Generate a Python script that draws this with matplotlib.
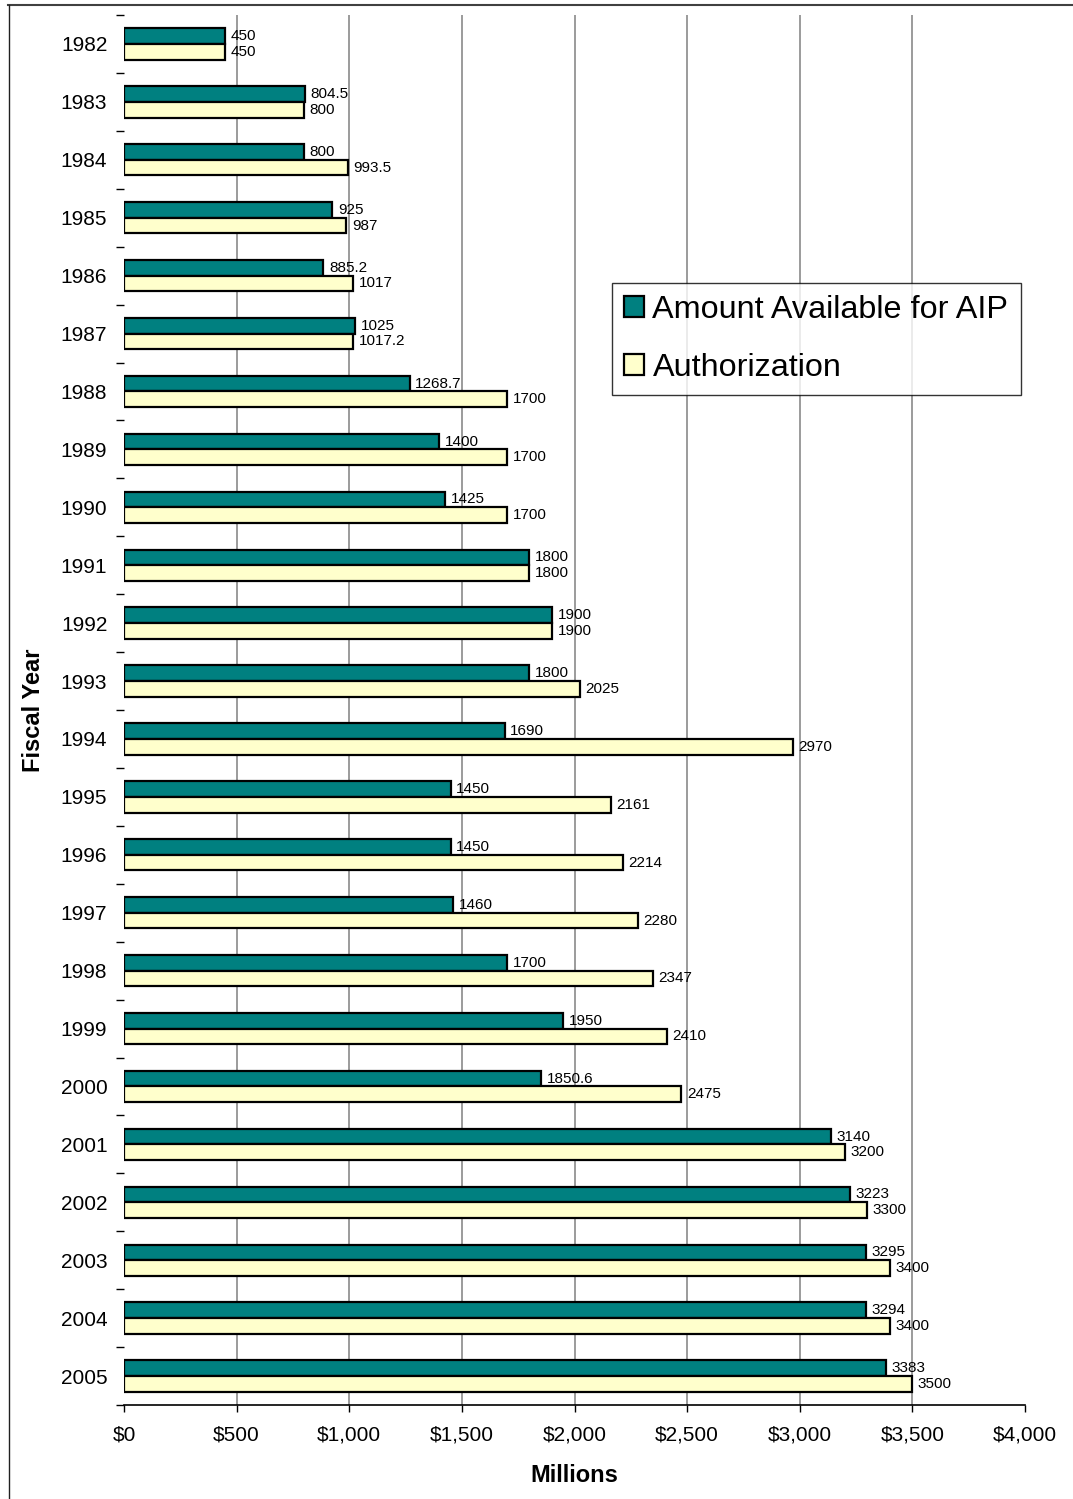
import matplotlib
matplotlib.use("Agg")
import matplotlib.pyplot as plt
import numpy as np
from matplotlib.lines import Line2D
from matplotlib.ticker import FuncFormatter, FixedLocator

plt.rcParams['font.family'] = ['Liberation Sans', 'DejaVu Sans']

years = ["1982", "1983", "1984", "1985", "1986", "1987", "1988", "1989", "1990",
         "1991", "1992", "1993", "1994", "1995", "1996", "1997", "1998", "1999",
         "2000", "2001", "2002", "2003", "2004", "2005"]
amount_available = [450, 804.5, 800, 925, 885.2, 1025, 1268.7, 1400, 1425, 1800,
                    1900, 1800, 1690, 1450, 1450, 1460, 1700, 1950, 1850.6, 3140,
                    3223, 3295, 3294, 3383]
authorization = [450, 800, 993.5, 987, 1017, 1017.2, 1700, 1700, 1700, 1800,
                 1900, 2025, 2970, 2161, 2214, 2280, 2347, 2410, 2475, 3200,
                 3300, 3400, 3400, 3500]
amount_labels = ["450", "804.5", "800", "925", "885.2", "1025", "1268.7", "1400",
                 "1425", "1800", "1900", "1800", "1690", "1450", "1450", "1460",
                 "1700", "1950", "1850.6", "3140", "3223", "3295", "3294", "3383"]
auth_labels = ["450", "800", "993.5", "987", "1017", "1017.2", "1700", "1700",
               "1700", "1800", "1900", "2025", "2970", "2161", "2214", "2280",
               "2347", "2410", "2475", "3200", "3300", "3400", "3400", "3500"]
series_names = ["Amount Available for AIP", "Authorization"]
x_ticks = [0, 500, 1000, 1500, 2000, 2500, 3000, 3500, 4000]

W, H = 1073, 1499
fig = plt.figure(figsize=(W / 100, H / 100), dpi=100)
ax = fig.add_axes([124 / W, 1 - 1405 / H, (1025 - 124) / W, (1405 - 15) / H])

y = np.arange(len(years))
bh = 0.27
b1 = ax.barh(y - bh / 2, amount_available, height=bh, color="#008080",
             edgecolor="black", linewidth=1.6, label=series_names[0], zorder=3)
b2 = ax.barh(y + bh / 2, authorization, height=bh, color="#FFFFCC",
             edgecolor="black", linewidth=1.6, label=series_names[1], zorder=3)
ax.bar_label(b1, labels=amount_labels, padding=4, fontsize=11)
ax.bar_label(b2, labels=auth_labels, padding=4, fontsize=11)

ax.set_xlim(0, 4000)
ax.set_ylim(len(years) - 0.5, -0.5)
ax.xaxis.set_major_locator(FixedLocator(x_ticks))
ax.xaxis.set_major_formatter(FuncFormatter(lambda v, p: "${:,.0f}".format(v)))
ax.tick_params(axis='x', direction='out', length=5, width=1, pad=10, labelsize=15)

ax.set_yticks(y)
ax.set_yticklabels(years)
ax.set_yticks(np.arange(len(years) + 1) - 0.5, minor=True)
ax.tick_params(axis='y', which='major', length=0, pad=12, labelsize=15)
ax.tick_params(axis='y', which='minor', length=6, width=1, direction='out')

for s in ['top', 'right', 'left']:
    ax.spines[s].set_visible(False)
ax.spines['bottom'].set_linewidth(1.2)

for xv in x_ticks[1:-1]:
    ax.axvline(xv, color="#808080", linewidth=1.1, zorder=1)

fig.text(33 / W, 1 - 710 / H, "Fiscal Year", rotation=90, ha='center', va='center',
         fontsize=17, fontweight='bold')
fig.text(574.5 / W, 1 - 1476 / H, "Millions", ha='center', va='center',
         fontsize=17, fontweight='bold')

leg = fig.legend(handles=[b1, b2], labels=series_names, loc='upper left',
                 bbox_to_anchor=(612 / W, 1 - 283 / H), borderaxespad=0,
                 fontsize=23.3, frameon=True, fancybox=False, handlelength=0.62,
                 handleheight=0.62, handletextpad=0.25, labelspacing=0.85,
                 borderpad=0.38)
leg.get_frame().set_edgecolor("black")
leg.get_frame().set_linewidth(1.0)

fig.add_artist(Line2D([8 / W, 1], [1 - 5 / H, 1 - 5 / H], transform=fig.transFigure,
                      color="#404040", linewidth=1.5))
fig.add_artist(Line2D([8.5 / W, 8.5 / W], [0, 1 - 5 / H], transform=fig.transFigure,
                      color="#202020", linewidth=1.0))

fig.savefig("out.png", dpi=100)
